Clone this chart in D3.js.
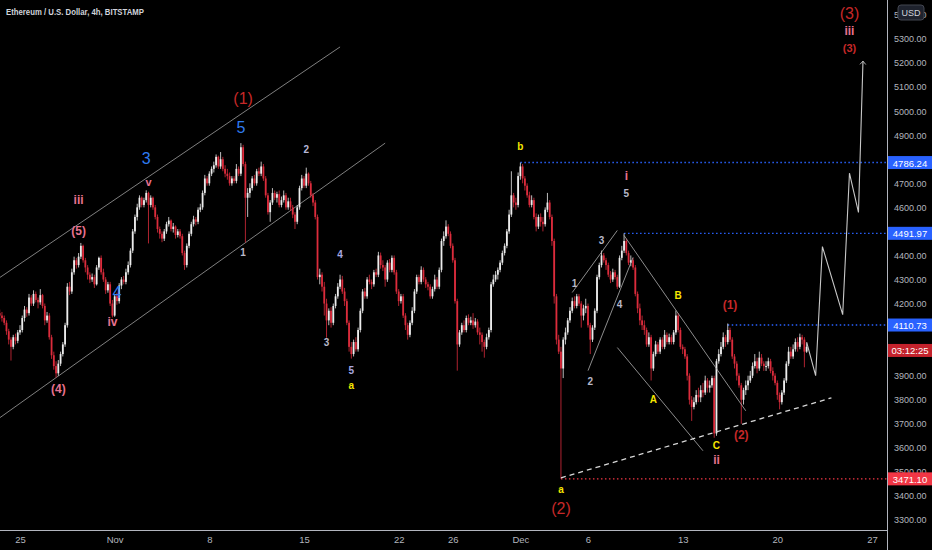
<!DOCTYPE html>
<html>
<head>
<meta charset="utf-8">
<script src="https://cdn.jsdelivr.net/npm/d3@7"></script>
<style>
  body { margin: 0; background: #000; }
  text { font-family: "Liberation Sans", Arial, sans-serif; }
</style>
</head>
<body>
<div id="chart"></div>
<script>
// 4h candles, first one opens Oct 23 12:00, opens are previous close
var firstCandle = Date.UTC(2021, 9, 23, 12);
var firstOpen = 4160;

var closes = [
  4150,4140,4120,4085,4050,4020,4060,4045,4080,4090,
  4140,4175,4160,4225,4200,4240,4215,4205,4235,4190,
  4130,4150,4060,3985,3940,3910,3950,3990,4030,4110,
  4270,4250,4330,4380,4360,4395,4440,4380,4350,4320,
  4300,4310,4280,4350,4390,4330,4300,4255,4280,4200,
  4150,4230,4210,4275,4300,4290,4330,4360,4420,4500,
  4560,4600,4640,4610,4630,4660,4610,4640,4600,4560,
  4510,4490,4470,4500,4530,4545,4510,4520,4485,4500,
  4480,4410,4360,4440,4490,4530,4550,4540,4590,4600,
  4660,4720,4700,4740,4760,4775,4810,4770,4800,4760,
  4740,4730,4700,4720,4710,4760,4740,4850,4780,4640,
  4660,4680,4720,4700,4750,4740,4770,4720,4650,4580,
  4620,4660,4640,4655,4610,4630,4650,4600,4625,4600,
  4570,4540,4600,4680,4720,4690,4740,4700,4650,4620,
  4560,4310,4320,4270,4200,4130,4170,4120,4190,4230,
  4270,4300,4250,4210,4120,4020,3990,4040,4010,4090,
  4170,4250,4230,4300,4290,4280,4330,4320,4400,4360,
  4350,4300,4370,4340,4390,4330,4250,4210,4230,4150,
  4110,4070,4120,4170,4250,4310,4290,4340,4300,4280,
  4270,4230,4260,4300,4270,4340,4460,4480,4520,4490,
  4440,4380,4210,4030,4080,4110,4090,4140,4120,4130,
  4110,4125,4080,4070,4040,4020,4060,4090,4280,4300,
  4320,4340,4370,4410,4440,4500,4570,4650,4620,4610,
  4730,4770,4720,4690,4650,4610,4630,4560,4520,4560,
  4540,4530,4590,4620,4560,4460,4230,4050,4000,3930,
  4050,4080,4130,4170,4210,4190,4230,4200,4150,4180,
  4190,4110,4050,4100,4170,4310,4360,4400,4380,4360,
  4320,4300,4330,4310,4270,4390,4420,4460,4410,4370,
  4380,4350,4240,4180,4130,4110,4090,4030,4060,3930,
  3990,4030,4000,4050,4020,4070,4040,4060,4040,4080,
  4150,4090,4020,4010,3980,3900,3800,3770,3790,3820,
  3810,3840,3830,3880,3850,3860,3890,3660,3960,3990,
  4020,4060,4040,4090,4050,3980,3950,3900,3860,3800,
  3840,3860,3880,3900,3940,3960,3930,3975,3950,3940,
  3940,3960,3920,3900,3870,3820,3790,3830,3880,3950,
  4000,3980,4010,4040,4020,4060,4050,4000,4020
];

var highs = [
  4175,4165,4150,4130,4095,4060,4070,4075,4090,4110,
  4150,4190,4185,4240,4235,4255,4250,4225,4260,4240,
  4200,4165,4160,4070,4000,3960,3965,4000,4040,4120,
  4285,4290,4345,4395,4390,4410,4452,4445,4390,4360,
  4330,4325,4320,4360,4395,4400,4345,4310,4290,4290,
  4215,4240,4245,4285,4310,4315,4345,4375,4430,4510,
  4570,4615,4650,4645,4640,4671,4665,4650,4645,4610,
  4570,4520,4500,4510,4540,4560,4550,4535,4525,4510,
  4510,4490,4420,4450,4500,4540,4565,4560,4600,4615,
  4670,4735,4730,4750,4770,4790,4820,4815,4830,4810,
  4775,4760,4745,4730,4730,4780,4770,4867,4860,4790,
  4680,4700,4730,4735,4760,4765,4790,4780,4730,4660,
  4630,4680,4670,4665,4670,4645,4670,4660,4640,4640,
  4610,4580,4610,4690,4735,4730,4765,4745,4710,4660,
  4630,4570,4345,4330,4290,4220,4180,4185,4200,4240,
  4285,4320,4315,4265,4220,4130,4040,4050,4060,4100,
  4180,4260,4265,4310,4320,4300,4340,4345,4415,4412,
  4380,4360,4380,4385,4400,4400,4340,4260,4240,4240,
  4160,4120,4130,4185,4260,4320,4320,4355,4350,4310,
  4290,4280,4270,4320,4310,4350,4470,4500,4546,4530,
  4500,4450,4390,4220,4090,4120,4130,4150,4155,4145,
  4160,4140,4135,4100,4080,4050,4075,4100,4290,4320,
  4335,4350,4380,4420,4450,4510,4590,4750,4660,4640,
  4745,4786,4780,4730,4700,4665,4650,4640,4575,4570,
  4575,4560,4600,4660,4630,4570,4470,4240,4070,4020,
  4060,4100,4140,4185,4225,4230,4240,4240,4210,4195,
  4220,4200,4120,4110,4180,4320,4370,4420,4410,4390,
  4370,4335,4345,4340,4320,4400,4440,4492,4470,4420,
  4400,4390,4360,4250,4200,4150,4130,4100,4080,4070,
  4000,4045,4040,4060,4060,4090,4080,4075,4070,4090,
  4171,4160,4100,4030,4020,3990,3910,3815,3810,3840,
  3850,3860,3870,3900,3890,3880,3900,3900,3970,4010,
  4040,4080,4070,4117,4100,4060,3990,3960,3910,3870,
  3850,3880,3900,3920,3955,3990,3975,4000,3990,3960,
  3960,3975,3970,3935,3910,3880,3830,3840,3890,3960,
  4020,4020,4030,4055,4060,4075,4070,4060,4035
];

var lows = [
  4135,4125,4110,4070,4030,3963,4010,4030,4035,4070,
  4080,4125,4145,4150,4190,4190,4205,4180,4195,4180,
  4110,4120,4050,3970,3925,3892,3900,3940,3980,4020,
  4100,4235,4240,4320,4345,4350,4385,4370,4330,4300,
  4285,4290,4265,4275,4340,4320,4290,4240,4245,4190,
  4142,4145,4195,4200,4260,4280,4280,4320,4350,4410,
  4490,4545,4590,4600,4600,4620,4450,4600,4590,4550,
  4495,4470,4455,4460,4490,4520,4500,4495,4470,4475,
  4470,4400,4340,4350,4430,4480,4520,4525,4530,4580,
  4590,4650,4690,4690,4730,4745,4765,4760,4760,4750,
  4725,4715,4690,4690,4700,4700,4730,4730,4770,4454,
  4560,4640,4670,4690,4690,4730,4730,4710,4640,4570,
  4540,4610,4630,4620,4600,4600,4620,4590,4590,4585,
  4555,4510,4530,4590,4670,4680,4680,4690,4640,4605,
  4550,4300,4280,4250,4150,4058,4110,4100,4110,4180,
  4220,4260,4240,4190,4110,4000,3971,3980,4000,4000,
  4080,4160,4220,4220,4280,4260,4270,4310,4310,4345,
  4335,4270,4290,4330,4330,4320,4240,4190,4200,4140,
  4090,4050,4060,4110,4160,4240,4280,4280,4290,4265,
  4255,4220,4220,4250,4260,4260,4330,4440,4470,4480,
  4430,4370,4200,3921,4020,4070,4080,4080,4110,4110,
  4095,4100,4070,4030,4000,3975,4010,4050,4080,4270,
  4290,4300,4330,4360,4400,4430,4490,4560,4600,4590,
  4600,4715,4700,4670,4640,4600,4600,4550,4500,4510,
  4520,4500,4520,4580,4550,4440,4200,4030,3990,3471,
  3890,4030,4070,4120,4160,4180,4180,4190,4100,4130,
  4160,4100,3990,4040,4090,4160,4300,4350,4370,4340,
  4310,4285,4290,4300,4260,4265,4380,4410,4400,4360,
  4355,4340,4230,4160,4110,4090,4070,4020,4020,3880,
  3920,3980,3990,3990,4010,4010,4030,4030,4030,4030,
  4070,4080,4010,3990,3970,3880,3780,3712,3760,3780,
  3790,3790,3810,3820,3830,3830,3850,3642,3650,3950,
  3980,4010,4020,4030,4040,3970,3930,3880,3850,3700,
  3780,3820,3840,3870,3890,3930,3910,3920,3940,3920,
  3920,3930,3910,3880,3860,3800,3760,3780,3820,3870,
  3940,3970,3970,4000,4000,4010,4030,3935,3995
];

// axis ticks (4800, 4500, 4100 and 4000 sit under the price tags)
var priceTicks = [3300,3400,3500,3600,3700,3800,3900,4200,4300,4400,4600,4700,4900,5000,5100,5200,5300,5400];
var dateTicks = ["2021-10-25","2021-11-01","2021-11-08","2021-11-15","2021-11-22","2021-11-26","2021-12-01","2021-12-06","2021-12-13","2021-12-20","2021-12-27"];
var dateLabels = ["25","Nov","8","15","22","26","Dec","6","13","20","27"];

// horizontal levels: [price, start candle, colour]
var levels = [
  [4786.24, 231, "#2962ff"],
  [4491.97, 277, "#2962ff"],
  [4110.73, 323, "#2962ff"],
  [3471.10, 249, "#f23645"]
];

// drawn lines as [candle, price] points
var upperChannel = [[0, 4308], [151, 5267]];
var lowerChannel = [[0, 3725], [171, 4867]];
var trendDashed = [[249, 3475], [369, 3808]];
var wedgeTop = [[254, 4246], [274, 4504]];
var wedgeBottom = [[261, 3921], [281, 4392]];
var abcTop = [[277, 4483], [331, 3754]];
var abcBottom = [[274, 4017], [312, 3588]];
var projection = [[358, 4040], [362, 3900], [365, 4437], [374, 4154], [377, 4742], [381, 4579], [383, 5208]];

// wave labels: [text, candle, price, colour, size]
var waveLabels = [
  ["(1)", 108, 5054, "#c62828", 16],
  ["5", 107, 4933, "#2f7bf0", 16],
  ["3", 65, 4804, "#2f7bf0", 16],
  ["4", 52, 4246, "#2f7bf0", 16],
  ["iii", 35, 4629, "#e8728f", 12],
  ["(5)", 35, 4500, "#e8728f", 12],
  ["v", 66, 4704, "#e8728f", 11],
  ["iv", 50, 4125, "#e8728f", 12],
  ["(4)", 26, 3846, "#e8728f", 12],
  ["1", 108, 4412, "#b8b8c8", 10],
  ["2", 136, 4842, "#b8b8d8", 10],
  ["3", 145, 4037, "#b8b8c8", 10],
  ["4", 151, 4404, "#a8a8e0", 10],
  ["5", 156, 3921, "#a8a8e0", 10],
  ["a", 156, 3858, "#f5e600", 10],
  ["b", 231, 4854, "#f5e600", 10],
  ["a", 249, 3425, "#f5e600", 10],
  ["(2)", 249, 3346, "#c62828", 16],
  ["i", 278, 4729, "#e8728f", 12],
  ["5", 278, 4658, "#b8b8c8", 10],
  ["3", 267, 4462, "#b8b8c8", 10],
  ["1", 255, 4283, "#b8b8c8", 10],
  ["4", 275, 4196, "#b8b8c8", 10],
  ["2", 262, 3875, "#b8b8c8", 10],
  ["A", 290, 3800, "#f5e600", 10],
  ["B", 301, 4233, "#f5e600", 10],
  ["C", 318, 3608, "#f5e600", 10],
  ["ii", 318, 3550, "#e8728f", 12],
  ["(1)", 324, 4196, "#c62828", 12],
  ["(2)", 329, 3654, "#c62828", 12],
  ["(3)", 377, 5408, "#c62828", 16],
  ["iii", 377, 5333, "#e8728f", 12],
  ["(3)", 377, 5262, "#c62828", 11]
];

var width = 932, height = 550;
var plotRight = 887, plotBottom = 530;

var svg = d3.select("#chart")
  .append("svg")
  .attr("width", width)
  .attr("height", height)
  .style("background", "#000");

var x = d3.scaleUtc()
  .domain([new Date(Date.UTC(2021, 9, 25)), new Date(Date.UTC(2021, 11, 27))])
  .range([20, 872]);

var y = d3.scaleLinear()
  .domain([3300, 5300])
  .range([520, 39]);

function candleTime(i) { return new Date(firstCandle + i * 4 * 3600 * 1000); }
function px(i) { return x(candleTime(i)); }

var line = d3.line()
  .x(function(d) { return px(d[0]); })
  .y(function(d) { return y(d[1]); });

var defs = svg.append("defs");
defs.append("clipPath").attr("id", "plot")
  .append("rect").attr("x", 0).attr("y", 0).attr("width", plotRight).attr("height", plotBottom);

defs.append("marker")
  .attr("id", "arrow")
  .attr("viewBox", "-6 -6 12 12")
  .attr("markerWidth", 10).attr("markerHeight", 10)
  .attr("orient", "auto")
  .attr("markerUnits", "userSpaceOnUse")
  .append("path")
  .attr("d", "M-4,-3.5 L0,0 L-4,3.5")
  .attr("fill", "none")
  .attr("stroke", "#d0d0d0")
  .attr("stroke-width", 1);

var plot = svg.append("g").attr("clip-path", "url(#plot)");

// channel lines
[upperChannel, lowerChannel].forEach(function(pts) {
  plot.append("path").datum(pts)
    .attr("d", line)
    .attr("fill", "none")
    .attr("stroke", "#a0a0a0")
    .attr("stroke-width", 0.8);
});

// level lines
levels.forEach(function(l) {
  plot.append("line")
    .attr("x1", px(l[1])).attr("x2", plotRight)
    .attr("y1", y(l[0])).attr("y2", y(l[0]))
    .attr("stroke", l[2])
    .attr("stroke-width", 1.4)
    .attr("stroke-dasharray", "1.5,2.5");
});

// candles
var candles = closes.map(function(c, i) {
  var o = i === 0 ? firstOpen : closes[i - 1];
  return {
    i: i, o: o, c: c,
    h: Math.max(highs[i], o, c),
    l: Math.min(lows[i], o, c)
  };
});

var upColor = "#ececec", downColor = "#dc2c3c";

var cg = plot.append("g");
cg.selectAll(".wick").data(candles).enter().append("line")
  .attr("x1", function(d) { return px(d.i); })
  .attr("x2", function(d) { return px(d.i); })
  .attr("y1", function(d) { return y(d.h); })
  .attr("y2", function(d) { return y(d.l); })
  .attr("stroke", function(d) { return d.c >= d.o ? upColor : downColor; })
  .attr("stroke-width", 0.8);

cg.selectAll(".body").data(candles).enter().append("rect")
  .attr("x", function(d) { return px(d.i) - 0.9; })
  .attr("width", 1.8)
  .attr("y", function(d) { return y(Math.max(d.o, d.c)); })
  .attr("height", function(d) { return Math.max(1, Math.abs(y(d.o) - y(d.c))); })
  .attr("fill", function(d) { return d.c >= d.o ? upColor : downColor; });

// wave structure lines
[wedgeTop, wedgeBottom, abcTop, abcBottom].forEach(function(pts) {
  plot.append("path").datum(pts)
    .attr("d", line)
    .attr("fill", "none")
    .attr("stroke", "#b0b0b0")
    .attr("stroke-width", 0.8);
});

plot.append("path").datum(trendDashed)
  .attr("d", line)
  .attr("fill", "none")
  .attr("stroke", "#d8d8d8")
  .attr("stroke-width", 1.3)
  .attr("stroke-dasharray", "5,4");

plot.append("path").datum(projection)
  .attr("d", line)
  .attr("fill", "none")
  .attr("stroke", "#c8c8c8")
  .attr("stroke-width", 1.1)
  .attr("marker-end", "url(#arrow)");

// wave labels
plot.selectAll(".wave").data(waveLabels).enter().append("text")
  .attr("x", function(d) { return px(d[1]); })
  .attr("y", function(d) { return y(d[2]); })
  .attr("text-anchor", "middle")
  .attr("dominant-baseline", "central")
  .attr("fill", function(d) { return d[3]; })
  .attr("font-size", function(d) { return d[4]; })
  .attr("font-weight", function(d) { return d[4] <= 12 ? "bold" : "normal"; })
  .text(function(d) { return d[0]; });

// title
svg.append("text")
  .attr("x", 6).attr("y", 15)
  .attr("fill", "#d1d4dc")
  .attr("font-size", 9)
  .attr("font-weight", "bold")
  .attr("textLength", 138)
  .attr("lengthAdjust", "spacingAndGlyphs")
  .text("Ethereum / U.S. Dollar, 4h, BITSTAMP");

// axes
var axisColor = "#b2b5be";

svg.append("line")
  .attr("x1", plotRight + 0.5).attr("x2", plotRight + 0.5)
  .attr("y1", 0).attr("y2", height)
  .attr("stroke", axisColor).attr("stroke-width", 1);

svg.append("line")
  .attr("x1", 0).attr("x2", plotRight)
  .attr("y1", plotBottom + 0.5).attr("y2", plotBottom + 0.5)
  .attr("stroke", axisColor).attr("stroke-width", 1);

var yAxis = svg.append("g")
  .attr("transform", "translate(" + (plotRight + 7) + ",0)")
  .call(d3.axisRight(y).tickValues(priceTicks).tickFormat(d3.format(".2f")).tickSize(0).tickPadding(0));
yAxis.select(".domain").remove();
yAxis.selectAll("text")
  .attr("fill", axisColor)
  .attr("font-size", 9)
  .attr("font-family", "Liberation Sans, Arial, sans-serif");

var xAxis = svg.append("g")
  .attr("transform", "translate(0," + (plotBottom + 3) + ")")
  .call(d3.axisBottom(x)
    .tickValues(dateTicks.map(function(d) { return new Date(d + "T00:00:00Z"); }))
    .tickFormat(function(d, i) { return dateLabels[i]; })
    .tickSize(0));
xAxis.select(".domain").remove();
xAxis.selectAll("text")
  .attr("fill", axisColor)
  .attr("font-size", 9.5)
  .attr("font-family", "Liberation Sans, Arial, sans-serif");

// price tags
function tag(price, label, fill) {
  var g = svg.append("g").attr("transform", "translate(" + (plotRight + 1) + "," + y(price) + ")");
  g.append("rect")
    .attr("x", 0).attr("y", -6.5)
    .attr("width", width - plotRight - 1).attr("height", 13)
    .attr("fill", fill);
  g.append("text")
    .attr("x", 22).attr("y", 0.5)
    .attr("text-anchor", "middle")
    .attr("dominant-baseline", "central")
    .attr("fill", "#ffffff")
    .attr("font-size", 9.5)
    .text(label);
}

levels.forEach(function(l) { tag(l[0], d3.format(".2f")(l[0]), l[2]); });
tag(closes[closes.length - 1] - 15, "03:12:25", "#c4222c");

// currency box over the 5400 label
var usd = svg.append("g").attr("transform", "translate(898,5)");
usd.append("rect")
  .attr("width", 26).attr("height", 15).attr("rx", 3)
  .attr("fill", "#1e222d").attr("stroke", "#434651");
usd.append("text")
  .attr("x", 13).attr("y", 8)
  .attr("text-anchor", "middle")
  .attr("dominant-baseline", "central")
  .attr("fill", "#d1d4dc")
  .attr("font-size", 9)
  .text("USD");
</script>
</body>
</html>
